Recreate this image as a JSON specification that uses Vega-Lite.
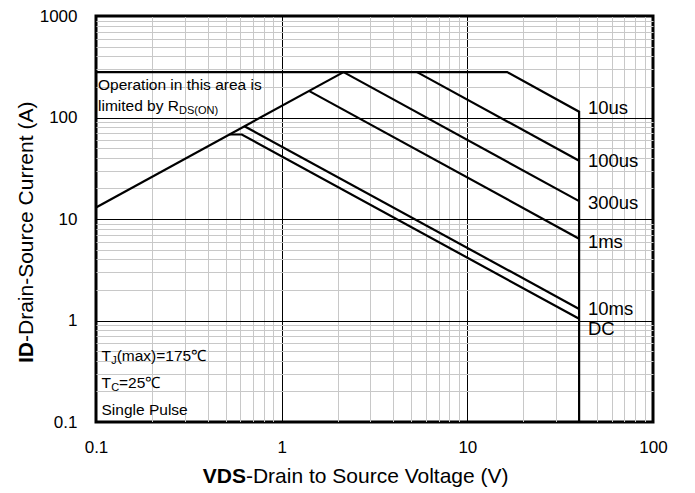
{
  "$schema": "https://vega.github.io/schema/vega-lite/v6.json",
  "width": 557,
  "height": 406,
  "autosize": "none",
  "padding": {"left": 96, "top": 16, "right": 42, "bottom": 71},
  "background": "white",
  "config": {
    "view": {"stroke": "black", "strokeWidth": 3},
    "font": "Liberation Sans",
    "text": {"font": "Liberation Sans", "color": "black"}
  },
  "datasets": {
    "curves": [
      {"s": "rds", "i": 0, "x": 0.1, "y": 13},
      {"s": "rds", "i": 1, "x": 2.154, "y": 280},
      {"s": "10us", "i": 0, "x": 0.1, "y": 280},
      {"s": "10us", "i": 1, "x": 16.4, "y": 280},
      {"s": "10us", "i": 2, "x": 40, "y": 114},
      {"s": "10us", "i": 3, "x": 40, "y": 0.1},
      {"s": "100us", "i": 0, "x": 5.36, "y": 280},
      {"s": "100us", "i": 1, "x": 40, "y": 37.5},
      {"s": "300us", "i": 0, "x": 2.154, "y": 280},
      {"s": "300us", "i": 1, "x": 40, "y": 15},
      {"s": "1ms", "i": 0, "x": 1.41, "y": 182},
      {"s": "1ms", "i": 1, "x": 40, "y": 6.4},
      {"s": "10ms", "i": 0, "x": 0.63, "y": 82},
      {"s": "10ms", "i": 1, "x": 40, "y": 1.3},
      {"s": "DC", "i": 0, "x": 0.523, "y": 68},
      {"s": "DC", "i": 1, "x": 0.61, "y": 68},
      {"s": "DC", "i": 2, "x": 40, "y": 1.04}
    ],
    "curveLabels": [
      {"t": "10us", "x": 44.6, "y": 124},
      {"t": "100us", "x": 44.6, "y": 37.3},
      {"t": "300us", "x": 44.6, "y": 14.4},
      {"t": "1ms", "x": 44.6, "y": 6.0},
      {"t": "10ms", "x": 44.6, "y": 1.3},
      {"t": "DC", "x": 44.6, "y": 0.82}
    ],
    "notes": [
      {"t": "Operation in this area is", "x": 0.1025, "y": 186.6},
      {"t": "limited by R", "x": 0.1025, "y": 115.9},
      {"t": "T", "x": 0.1071, "y": 0.4018},
      {"t": "(max)=175℃", "x": 0.1292, "y": 0.4018},
      {"t": "T", "x": 0.1071, "y": 0.2148},
      {"t": "=25℃", "x": 0.1331, "y": 0.2148},
      {"t": "Single Pulse", "x": 0.1071, "y": 0.1172}
    ],
    "subs": [
      {"t": "DS(ON)", "x": 0.28, "y": 107.5},
      {"t": "J", "x": 0.1208, "y": 0.377},
      {"t": "C", "x": 0.1208, "y": 0.202}
    ],
    "titles": [
      {"k": "xb", "t": "VDS", "x": 0.642, "y": 0.0289},
      {"k": "xn", "t": "-Drain to Source Voltage (V)", "x": 0.642, "y": 0.0289},
      {"k": "yb", "t": "ID", "x": 0.0423, "y": 0.614},
      {"k": "yn", "t": "-Drain-Source Current (A)", "x": 0.0423, "y": 0.614}
    ]
  },
  "encoding": {
    "x": {
      "field": "x", "type": "quantitative",
      "scale": {"type": "log", "domain": [0.1, 100], "nice": false},
      "axis": {
        "values": [0.1, 0.2, 0.3, 0.4, 0.5, 0.6, 0.7, 0.8, 0.9, 1, 2, 3, 4, 5, 6, 7, 8, 9, 10, 20, 30, 40, 50, 60, 70, 80, 90, 100],
        "format": "~g",
        "labelExpr": "abs(log(datum.value)/LN10 - round(log(datum.value)/LN10)) < 0.001 ? datum.label : ''",
        "grid": true,
        "gridColor": {"condition": {"test": "abs(log(datum.value)/LN10 - round(log(datum.value)/LN10)) < 0.001", "value": "black"}, "value": "#c8c8c8"},
        "gridWidth": 1,
        "ticks": false,
        "domain": false,
        "labelPadding": 17,
        "labelFontSize": 17,
        "labelFont": "Liberation Sans",
        "labelColor": "black",
        "labelFlush": false,
        "labelOverlap": false,
        "title": null
      }
    },
    "y": {
      "field": "y", "type": "quantitative",
      "scale": {"type": "log", "domain": [0.1, 1000], "nice": false},
      "axis": {
        "values": [0.1, 0.2, 0.3, 0.4, 0.5, 0.6, 0.7, 0.8, 0.9, 1, 2, 3, 4, 5, 6, 7, 8, 9, 10, 20, 30, 40, 50, 60, 70, 80, 90, 100, 200, 300, 400, 500, 600, 700, 800, 900, 1000],
        "format": "~g",
        "labelExpr": "abs(log(datum.value)/LN10 - round(log(datum.value)/LN10)) < 0.001 ? datum.label : ''",
        "grid": true,
        "gridColor": {"condition": {"test": "abs(log(datum.value)/LN10 - round(log(datum.value)/LN10)) < 0.001", "value": "black"}, "value": "#c8c8c8"},
        "gridWidth": 1,
        "ticks": false,
        "domain": false,
        "labelPadding": 19,
        "labelFontSize": 17,
        "labelFont": "Liberation Sans",
        "labelColor": "black",
        "labelOverlap": false,
        "labelFlush": false,
        "title": null
      }
    }
  },
  "layer": [
    {
      "data": {"name": "curves"},
      "mark": {"type": "line", "color": "black", "strokeWidth": 2.2, "strokeJoin": "miter"},
      "encoding": {
        "detail": {"field": "s"},
        "order": {"field": "i"}
      }
    },
    {
      "data": {"name": "curveLabels"},
      "mark": {"type": "text", "align": "left", "baseline": "middle", "fontSize": 18.5},
      "encoding": {"text": {"field": "t"}}
    },
    {
      "data": {"name": "notes"},
      "mark": {"type": "text", "align": "left", "baseline": "alphabetic", "fontSize": 15.5},
      "encoding": {"text": {"field": "t"}}
    },
    {
      "data": {"name": "subs"},
      "mark": {"type": "text", "align": "left", "baseline": "alphabetic", "fontSize": 11},
      "encoding": {"text": {"field": "t"}}
    },
    {
      "data": {"name": "titles"},
      "transform": [{"filter": "datum.k === 'xb'"}],
      "mark": {"type": "text", "align": "right", "baseline": "middle", "fontSize": 21, "fontWeight": "bold"},
      "encoding": {"text": {"field": "t"}}
    },
    {
      "data": {"name": "titles"},
      "transform": [{"filter": "datum.k === 'xn'"}],
      "mark": {"type": "text", "align": "left", "baseline": "middle", "fontSize": 21},
      "encoding": {"text": {"field": "t"}}
    },
    {
      "data": {"name": "titles"},
      "transform": [{"filter": "datum.k === 'yb'"}],
      "mark": {"type": "text", "align": "right", "baseline": "middle", "fontSize": 21, "fontWeight": "bold", "angle": 270},
      "encoding": {"text": {"field": "t"}}
    },
    {
      "data": {"name": "titles"},
      "transform": [{"filter": "datum.k === 'yn'"}],
      "mark": {"type": "text", "align": "left", "baseline": "middle", "fontSize": 21, "angle": 270},
      "encoding": {"text": {"field": "t"}}
    }
  ]
}
